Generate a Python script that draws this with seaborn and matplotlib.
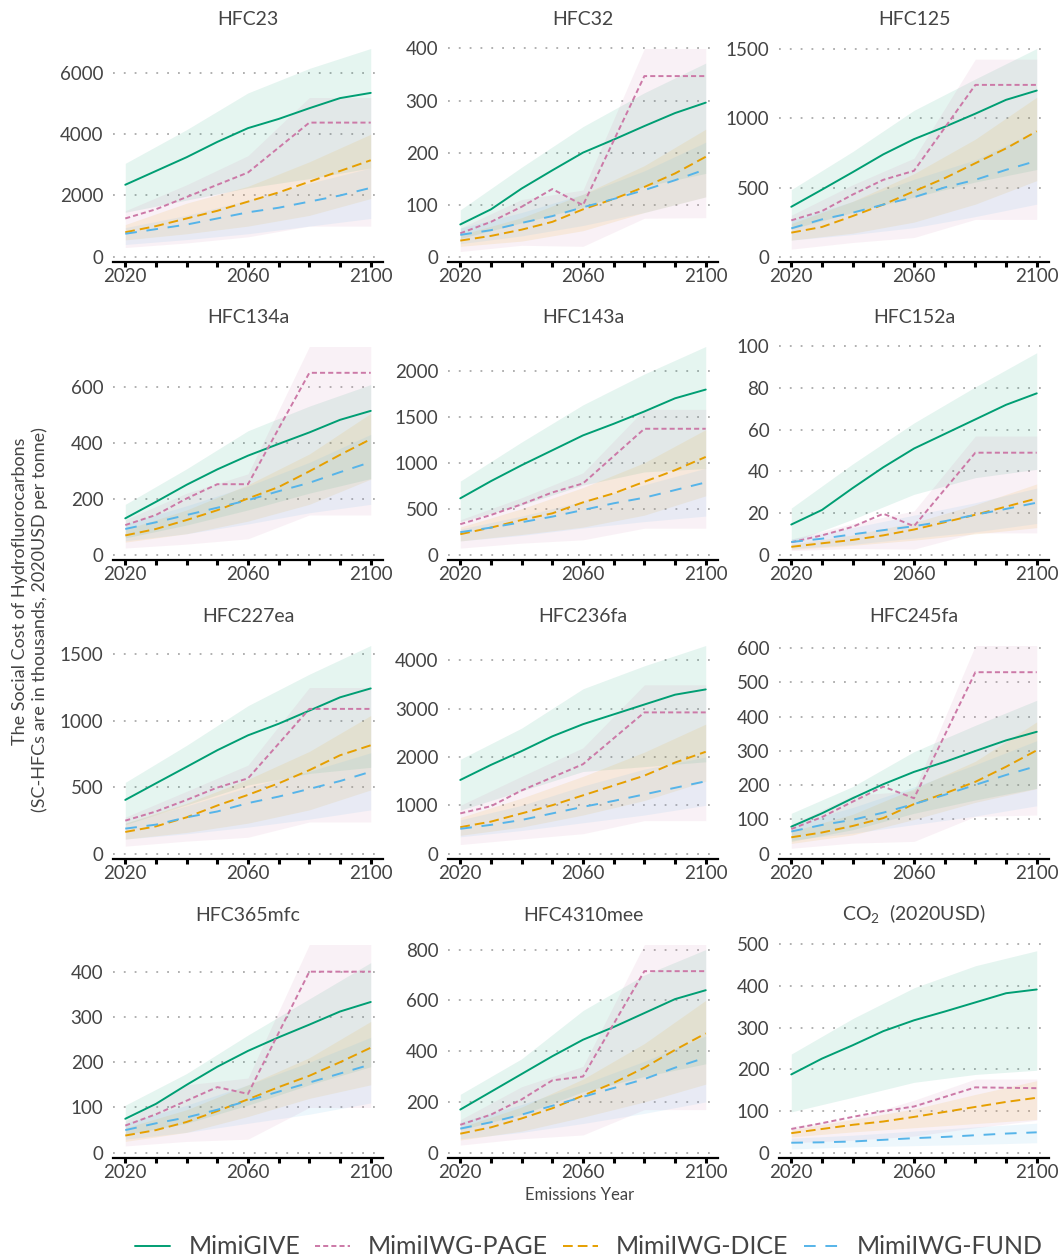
#!/usr/bin/env python3
"""Social cost of HFCs by emissions year, four models, 12 gases."""

import matplotlib

matplotlib.use("Agg")
import matplotlib.pyplot as plt
import numpy as np
import pandas as pd
import seaborn as sns
from matplotlib.lines import Line2D

GASES = [
    "HFC23", "HFC32", "HFC125", "HFC134a", "HFC143a", "HFC152a",
    "HFC227ea", "HFC236fa", "HFC245fa", "HFC365mfc", "HFC4310mee", "CO2",
]
TITLES = GASES[:-1] + [r"CO$_\mathregular{2}$  (2020USD)"]
Y_STEPS = [2000, 100, 500, 200, 500, 20, 500, 1000, 100, 100, 200, 100]

YEARS = [2020, 2030, 2040, 2050, 2060, 2070, 2080, 2090, 2100]
PAGE_YEARS = [2020, 2030, 2040, 2050, 2060, 2080, 2100]
BAND_YEARS = [2020, 2040, 2060, 2080, 2100]

MODELS = ["MimiGIVE", "MimiIWG-PAGE", "MimiIWG-DICE", "MimiIWG-FUND"]
COLORS = {
    "MimiGIVE": "#009E73",
    "MimiIWG-PAGE": "#CC79A7",
    "MimiIWG-DICE": "#E69F00",
    "MimiIWG-FUND": "#56B4E9",
}
DASHES = {
    "MimiGIVE": "",
    "MimiIWG-PAGE": (2.6, 1.6),
    "MimiIWG-DICE": (5, 2.6),
    "MimiIWG-FUND": (6, 5),
}

# central estimates (one row per gas, same order as GASES)
GIVE_MID = [
    [2350, 2800, 3250, 3750, 4200, 4500, 4850, 5180, 5350],
    [62, 91, 131, 166, 200, 225, 251, 276, 296],
    [361, 485, 611, 740, 850, 939, 1034, 1134, 1201],
    [130, 189, 250, 305, 354, 396, 437, 482, 514],
    [613, 800, 973, 1135, 1297, 1423, 1557, 1700, 1795],
    [14.5, 21.5, 32, 42, 51, 58, 65, 72, 77.5],
    [405, 530, 654, 779, 891, 978, 1077, 1177, 1244],
    [1525, 1837, 2122, 2427, 2678, 2881, 3085, 3288, 3397],
    [79, 118, 162, 203, 239, 268, 300, 331, 356],
    [75, 108, 150, 190, 225, 255, 283, 312, 333],
    [170, 240, 310, 380, 445, 495, 550, 605, 640],
    [188, 226, 258, 292, 318, 339, 361, 383, 392],
]
PAGE_MID = [
    [1250, 1550, 1950, 2350, 2750, 4380, 4380],
    [45, 67, 96, 130, 99, 347, 347],
    [263, 330, 449, 556, 621, 1242, 1242],
    [106, 142, 201, 252, 252, 650, 650],
    [332, 432, 548, 677, 775, 1369, 1369],
    [6, 9.3, 13.4, 19.7, 13.7, 49, 49],
    [249, 318, 405, 498, 567, 1090, 1090],
    [834, 983, 1308, 1580, 1851, 2922, 2922],
    [72, 107, 152, 196, 162, 530, 530],
    [60, 85, 115, 145, 130, 400, 400],
    [110, 150, 210, 285, 300, 715, 715],
    [57, 71, 86, 100, 111, 157, 155],
]
DICE_MID = [
    [800, 1000, 1250, 1500, 1800, 2100, 2450, 2800, 3150],
    [31, 40, 52, 67, 91, 111, 134, 160, 192],
    [174, 215, 294, 377, 473, 568, 676, 783, 907],
    [69, 92, 124, 159, 201, 242, 298, 357, 413],
    [223, 295, 378, 450, 569, 667, 793, 919, 1063],
    [3.8, 5.5, 7.1, 9.3, 12.1, 15.6, 19.2, 23.1, 27],
    [164, 206, 274, 363, 443, 530, 629, 741, 816],
    [549, 664, 834, 1003, 1207, 1410, 1614, 1885, 2108],
    [48, 62, 81, 104, 145, 176, 210, 254, 302],
    [38, 50, 68, 92, 118, 145, 170, 200, 232],
    [75, 100, 135, 175, 225, 275, 335, 405, 470],
    [47, 57, 67, 75, 86, 98, 110, 122, 132],
]
FUND_MID = [
    [750, 900, 1050, 1250, 1450, 1600, 1800, 2000, 2250],
    [42, 51, 65, 78, 95, 111, 128, 147, 168],
    [205, 270, 318, 377, 430, 501, 556, 628, 693],
    [92, 116, 142, 168, 195, 227, 257, 295, 331],
    [245, 295, 353, 414, 486, 559, 620, 703, 786],
    [6.1, 7.7, 9.8, 11.8, 13.7, 16.1, 19.2, 22, 25],
    [189, 219, 274, 318, 381, 430, 488, 547, 617],
    [515, 597, 698, 834, 969, 1092, 1227, 1363, 1498],
    [65, 84, 99, 120, 145, 172, 201, 230, 256],
    [50, 65, 78, 95, 115, 135, 155, 175, 195],
    [95, 120, 150, 185, 220, 255, 290, 335, 375],
    [24, 25, 27, 31, 35, 38, 42, 46, 49],
]

# uncertainty bands at BAND_YEARS
GIVE_LO = [
    [1450, 1850, 2250, 2550, 2900], [35, 65, 95, 135, 160],
    [200, 320, 430, 540, 630], [60, 106, 160, 220, 272],
    [360, 540, 757, 900, 937], [6, 17, 29, 37, 41],
    [219, 368, 517, 604, 650], [900, 1300, 1700, 1800, 1900],
    [36, 70, 118, 157, 191], [40, 65, 105, 150, 190],
    [90, 150, 240, 300, 350], [98, 133, 169, 188, 198],
]
GIVE_HI = [
    [3050, 4150, 5350, 6150, 6800], [90, 172, 250, 315, 372],
    [485, 760, 1058, 1285, 1505], [180, 307, 443, 531, 608],
    [800, 1225, 1629, 1964, 2263], [22.4, 43.6, 63.3, 80.6, 97],
    [537, 816, 1114, 1351, 1567], [1953, 2597, 3410, 3885, 4305],
    [118, 196, 298, 375, 448], [105, 175, 260, 340, 420],
    [230, 370, 560, 700, 800], [237, 322, 396, 449, 485],
]
PAGE_LO = [
    [300, 450, 650, 1000, 1000], [10, 22, 20, 74, 75],
    [55, 103, 139, 270, 270], [24, 38, 57, 142, 142],
    [72, 126, 162, 288, 288], [2, 3, 2.7, 10.5, 10.5],
    [57, 95, 124, 239, 239], [190, 305, 414, 685, 685],
    [16, 31, 36, 109, 113], [15, 25, 30, 100, 100],
    [30, 55, 70, 170, 170], [24, 30, 40, 60, 78],
]
PAGE_HI = [
    [1500, 2350, 3300, 5200, 5200], [55, 110, 128, 400, 400],
    [300, 520, 712, 1428, 1428], [125, 220, 289, 744, 744],
    [380, 620, 890, 1580, 1580], [7.5, 15, 21, 57, 57],
    [275, 470, 667, 1251, 1251], [1000, 1600, 2190, 3492, 3492],
    [85, 170, 184, 608, 608], [70, 150, 165, 460, 460],
    [130, 260, 340, 820, 820], [63, 82, 126, 177, 177],
]
DICE_LO = [
    [550, 750, 1000, 1350, 1900], [20, 30, 50, 85, 115],
    [120, 170, 250, 380, 550], [45, 75, 120, 180, 270],
    [150, 220, 300, 430, 640], [2.5, 4.5, 7, 10, 13],
    [110, 160, 230, 330, 480], [380, 550, 800, 1100, 1500],
    [30, 55, 100, 150, 190], [25, 45, 80, 120, 150],
    [50, 85, 140, 200, 270], [38, 50, 60, 70, 80],
]
DICE_HI = [
    [1050, 1750, 2300, 3100, 4000], [42, 75, 120, 175, 245],
    [240, 400, 600, 850, 1153], [90, 160, 250, 360, 505],
    [300, 500, 730, 1000, 1360], [5, 9.5, 15.5, 24, 34],
    [230, 380, 560, 770, 1040], [750, 1150, 1600, 2100, 2680],
    [65, 115, 190, 270, 385], [55, 95, 150, 210, 290],
    [100, 180, 290, 430, 600], [55, 80, 105, 140, 173],
]
FUND_LO = [
    [400, 560, 750, 1000, 1250], [25, 40, 60, 85, 115],
    [120, 160, 210, 290, 380], [50, 75, 110, 150, 180],
    [150, 210, 290, 360, 420], [3, 5, 8, 11, 15],
    [110, 150, 200, 260, 330], [350, 480, 640, 800, 1000],
    [40, 60, 85, 110, 140], [30, 45, 65, 85, 110],
    [55, 80, 115, 155, 200], [9, 14, 17, 20, 24],
]
FUND_HI = [
    [950, 1350, 1850, 2400, 2900], [55, 85, 120, 165, 220],
    [260, 400, 560, 700, 910], [110, 175, 245, 330, 430],
    [280, 420, 580, 760, 940], [7.5, 13, 19, 25, 32],
    [230, 360, 500, 620, 760], [700, 1000, 1400, 1750, 2000],
    [85, 135, 195, 260, 330], [65, 105, 150, 200, 255],
    [120, 190, 270, 360, 460], [35, 42, 52, 62, 71],
]

MID = {"MimiGIVE": GIVE_MID, "MimiIWG-PAGE": PAGE_MID,
       "MimiIWG-DICE": DICE_MID, "MimiIWG-FUND": FUND_MID}
LO = {"MimiGIVE": GIVE_LO, "MimiIWG-PAGE": PAGE_LO,
      "MimiIWG-DICE": DICE_LO, "MimiIWG-FUND": FUND_LO}
HI = {"MimiGIVE": GIVE_HI, "MimiIWG-PAGE": PAGE_HI,
      "MimiIWG-DICE": DICE_HI, "MimiIWG-FUND": FUND_HI}

TEXT = "#444444"


def long_frame() -> pd.DataFrame:
    rows = []
    for model in MODELS:
        years = PAGE_YEARS if model == "MimiIWG-PAGE" else YEARS
        for gas, vals in zip(GASES, MID[model]):
            for yr, v in zip(years, vals):
                rows.append({"gas": gas, "model": model, "year": yr, "value": v})
    return pd.DataFrame(rows)


def main() -> None:
    sns.set_theme(style="white")
    plt.rcParams.update({
        "font.family": ["Lato", "DejaVu Sans"],
        "mathtext.fontset": "custom",
        "mathtext.rm": "Lato",
        "text.color": TEXT,
        "axes.labelcolor": TEXT,
        "xtick.color": "black",
        "ytick.color": TEXT,
        "xtick.labelcolor": TEXT,
    })
    df = long_frame()

    W, H = 1064, 1260
    fig = plt.figure(figsize=(W / 100, H / 100), dpi=100)
    lefts = [113, 448, 779]
    spines = [262, 560, 859, 1158]
    aw, ah = 270, 216

    for i, gas in enumerate(GASES):
        r, c = divmod(i, 3)
        ax = fig.add_axes([lefts[c] / W, 1 - spines[r] / H, aw / W, ah / H])

        for model in MODELS:
            ax.fill_between(BAND_YEARS, LO[model][i], HI[model][i],
                            color=COLORS[model], alpha=0.1, lw=0)
        sns.lineplot(
            data=df[df["gas"] == gas], x="year", y="value",
            hue="model", style="model", hue_order=MODELS, style_order=MODELS,
            palette=COLORS, dashes=DASHES, linewidth=1.4, legend=False, ax=ax,
        )

        top = max(max(HI[m][i]) for m in MODELS)
        step = Y_STEPS[i]
        n = int(np.floor(top / step))
        if top > 0.95 * (n + 1) * step:
            n += 1
        ticks = np.arange(0, n + 1) * step
        ymax = max(top, ticks[-1]) * 1.012
        ax.set_ylim(-0.025 * ymax, ymax)
        ax.set_yticks(ticks)
        ax.set_yticklabels([f"{t:g}" for t in ticks])
        ax.set_xlim(2016, 2104)
        ax.set_xticks(YEARS)
        ax.set_xticklabels([str(y) if y in (2020, 2060, 2100) else "" for y in YEARS])

        ax.grid(axis="y", color="#aaaaaa", linestyle=(0, (1, 5)), linewidth=1.3)
        ax.set_axisbelow(True)
        for side in ("left", "right", "top"):
            ax.spines[side].set_visible(False)
        ax.spines["bottom"].set_color("black")
        ax.spines["bottom"].set_linewidth(1.6)
        ax.tick_params(axis="y", length=0, pad=7, labelsize=13.5)
        ax.tick_params(axis="x", length=3.5, width=2.2, pad=1, labelsize=13.5,
                       bottom=True, direction="out")
        ax.set_xlabel("")
        ax.set_ylabel("")
        ax.set_title(TITLES[i], fontsize=14, pad=15, color=TEXT)

    fig.text(20 / W, 1 - 591 / H, "The Social Cost of Hydrofluorocarbons",
             rotation=90, ha="center", va="center", fontsize=13)
    fig.text(40 / W, 1 - 620 / H, "(SC-HFCs are in thousands, 2020USD per tonne)",
             rotation=90, ha="center", va="center", fontsize=13)
    fig.text(580 / W, 1 - 1195 / H, "Emissions Year", ha="center", va="center",
             fontsize=12)

    handles = []
    for m in MODELS:
        line = Line2D([], [], color=COLORS[m], linewidth=1.4)
        if DASHES[m]:
            line.set_dashes(DASHES[m])
        handles.append(line)
    fig.legend(handles, MODELS, ncol=4, loc="center",
               bbox_to_anchor=(589 / W, 1 - 1247 / H), frameon=False,
               fontsize=18, handlelength=1.4, handletextpad=0.72,
               columnspacing=0.6)

    fig.savefig("out.png", dpi=100)
    plt.close(fig)


if __name__ == "__main__":
    main()
